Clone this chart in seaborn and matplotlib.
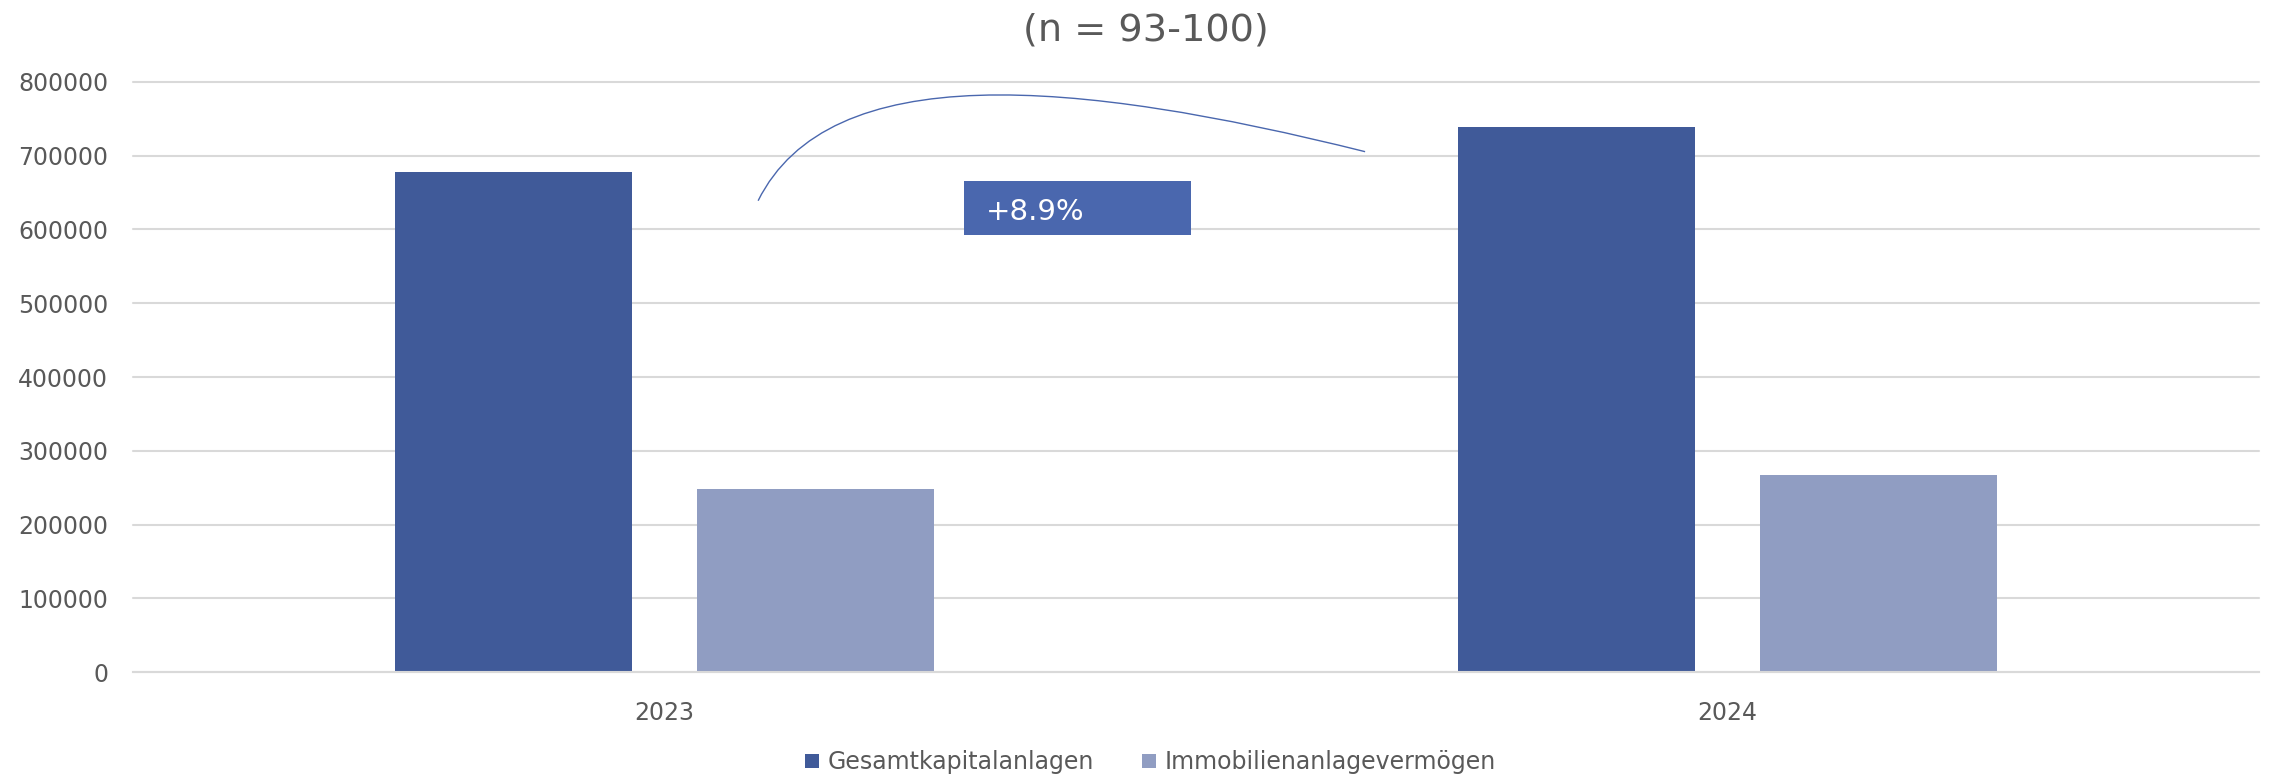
import matplotlib
matplotlib.use("Agg")
import matplotlib.pyplot as plt
from matplotlib.lines import Line2D
from matplotlib.patches import Rectangle, PathPatch
from matplotlib.path import Path
import numpy as np
import pandas as pd
import seaborn as sns

# Data
years = ["2023", "2024"]
series = ["Gesamtkapitalanlagen", "Immobilienanlagevermögen"]
gesamt = [678000, 738500]
immobilien = [248000, 267000]
title = "(n = 93-100)"
y_ticks = [0, 100000, 200000, 300000, 400000, 500000, 600000, 700000, 800000]

colors = {"Gesamtkapitalanlagen": "#405A99", "Immobilienanlagevermögen": "#909DC2"}
text_color = "#595959"
grid_color = "#D9D9D9"

df = pd.DataFrame({
    "Jahr": years * 2,
    "Reihe": [series[0]] * len(years) + [series[1]] * len(years),
    "Wert": gesamt + immobilien,
})

sns.set_style("white")
plt.rcParams["font.family"] = ["DejaVu Sans"]

fig = plt.figure(figsize=(22.75, 7.77), dpi=100)
ax = fig.add_axes([0.0585, 0.1351, 0.9345, 0.7594])

sns.barplot(data=df, x="Jahr", y="Wert", hue="Reihe", order=years, hue_order=series,
            palette=colors, saturation=1, width=0.568, gap=0.215, errorbar=None,
            legend=False, ax=ax, linewidth=0)

ax.set_xlim(-0.5, 1.5)
ax.set_ylim(0, 800000)
ax.set_yticks(y_ticks)
ax.set_yticklabels([str(v) for v in y_ticks])
ax.set_xlabel("")
ax.set_ylabel("")
ax.yaxis.grid(True, color=grid_color, linewidth=1.5)
for gl in ax.get_ygridlines():
    gl.set_clip_on(False)
ax.set_axisbelow(True)
for side in ["top", "right", "left"]:
    ax.spines[side].set_visible(False)
ax.spines["bottom"].set_color(grid_color)
ax.spines["bottom"].set_linewidth(1.5)
ax.tick_params(axis="y", length=0, pad=18, labelsize=17, labelcolor=text_color)
ax.tick_params(axis="x", length=0, pad=21, labelsize=17, labelcolor=text_color)

# Growth annotation: curved connector and label box
change = (gesamt[1] / gesamt[0] - 1) * 100
verts = [(0.088, 639000), (0.155, 833000), (0.385, 804000), (0.659, 705500)]
codes = [Path.MOVETO, Path.CURVE4, Path.CURVE4, Path.CURVE4]
ax.add_patch(PathPatch(Path(verts, codes), facecolor="none", edgecolor="#4A67AE",
                       linewidth=1.0, clip_on=False))
ax.add_patch(Rectangle((0.2818, 592900), 0.2135, 72900, facecolor="#4A67AE",
                       edgecolor="none", zorder=3))
ax.text(0.3024, 624000, f"+{change:.1f}%", color="white", fontsize=21,
        va="center", ha="left", zorder=4)

fig.text(1146 / 2275, 1 - 31 / 777, title, fontsize=27.5, color=text_color,
         ha="center", va="center")

handles = [Line2D([0], [0], marker="s", linestyle="none", markersize=9.5,
                  markerfacecolor=colors[s], markeredgewidth=0) for s in series]
fig.legend(handles, series, loc="center", bbox_to_anchor=(1150 / 2275, 1 - 762 / 777),
           ncol=2, frameon=False, fontsize=17, labelcolor=text_color,
           handlelength=0.7, handletextpad=0.3, columnspacing=2.0, borderpad=0)

fig.savefig("out.png", dpi=100)
